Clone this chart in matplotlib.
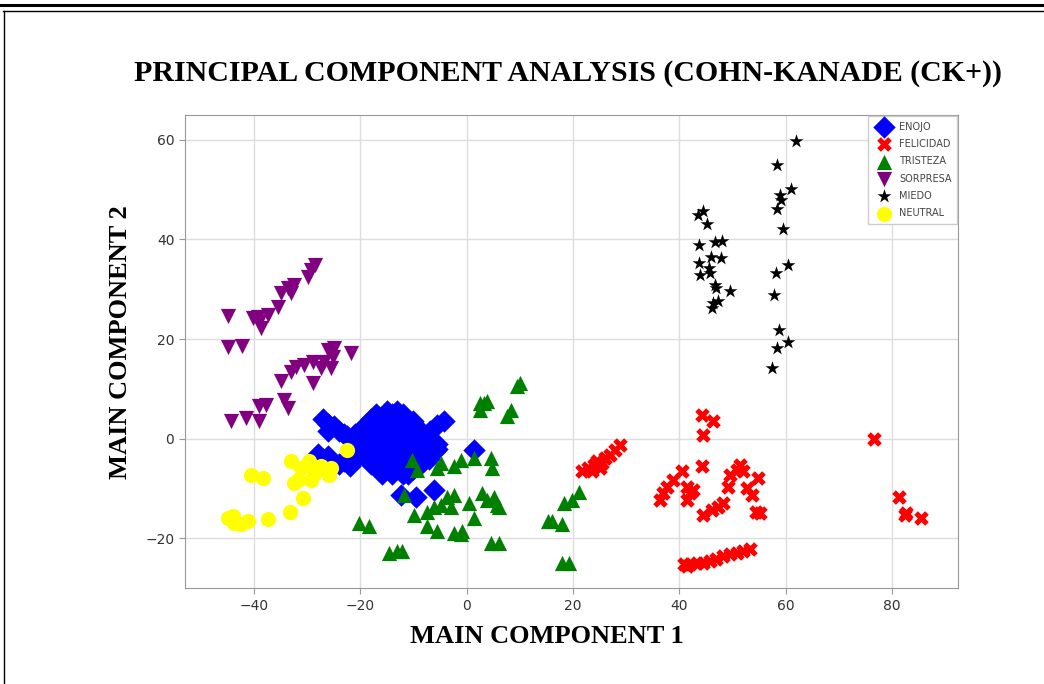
import matplotlib
matplotlib.use("Agg")
import matplotlib.pyplot as plt
from matplotlib.lines import Line2D

# PCA scatter of CK+ emotions

title = "PRINCIPAL COMPONENT ANALYSIS (COHN-KANADE (CK+))"
x_label = "MAIN COMPONENT 1"
y_label = "MAIN COMPONENT 2"
x_ticks = [-40, -20, 0, 20, 40, 60, 80]
y_ticks = [-20, 0, 20, 40, 60]

# ENOJO (blue diamonds)
enojo_x = [-27, -26, -25, -24, -23, -22.5, -26,
           -28, -27, -26, -25, -24, -23, -22, -21, -20, -21,
           -19, -18, -17, -16, -15, -14, -13, -12, -11, -10,
           -19, -18, -17, -16, -15, -14, -13, -12, -11, -10, -9, -8,
           -18, -17, -16, -15, -14, -13, -12, -11, -10, -15, -14, -13, -12,
           -16, -11, -9, -20, -21, -5.5, -7, -8,
           -19, -18, -17, -15, -13, -12, -10, -9, -8, -9,
           -19, -17, -18, -16, -14, -11, -10, -9, -20, -8,
           -7, -6, -5.5, -7,
           -6.8, -5.5, -4.3, -12.4, -9.6, -6.1, 1.4]
enojo_y = [4, 3, 2.5, 1.5, 1, 0.5, 1.5,
           -3, -4, -3.5, -5, -5, -4.5, -5.5, -4, -3, -2,
           1, 2, 3, 4, 4.5, 5, 4, 3.5, 2.5, 1.5,
           -1, -1, 0, 1, 2, 2, 1, 1, 0, -1, -2, -2.5,
           -3, -3, -2, -1, -1, -2, -3, -3, -4, -4, -5, -6, -7,
           -5.5, -5, -4, 0, 1, -2, -3, -1,
           3, 4, 5, 5.5, 5.5, 5, 3.5, 2, 0, 0.5,
           -2, -5, -5, -7, -7, -7, -6, -5.5, -1, -4,
           -1, -2.5, -1, -4,
           1.5, 2.8, 3.5, -11.2, -11.6, -10.2, -2.2]

# FELICIDAD (red X)
felicidad_x = [21.7, 22.9, 23.9, 24.5, 25.5, 26.1, 27.0, 28.0, 28.9, 23.6, 25.1,
               44.2, 46.4, 44.5, 44.2, 40.5, 38.9, 37.7, 37.0, 36.4, 41.4, 42.0,
               41.4, 42.6, 44.5, 46.1, 47.3, 48.3, 49.2, 49.5, 50.8, 51.4, 52.0,
               52.7, 53.6, 54.8, 55.2, 54.5,
               40.8, 42.0, 43.3, 44.5, 45.8, 47.0, 48.3, 49.5, 50.8, 52.0, 53.3, 41.4,
               76.7, 81.4, 82.7, 82.4, 85.5]
felicidad_y = [-6.5, -5.9, -5.2, -4.5, -4.9, -3.9, -3.2, -2.2, -1.2, -6.5, -5.9,
               4.8, 3.5, 0.8, -5.5, -6.5, -8.2, -9.6, -10.9, -12.2, -9.6, -10.9,
               -12.2, -10.2, -15.2, -14.2, -13.6, -12.9, -9.6, -7.2, -6.2, -5.2, -6.5,
               -9.9, -11.2, -7.9, -14.9, -14.6,
               -25.2, -25.2, -24.9, -24.9, -24.6, -24.2, -23.6, -23.2, -22.9, -22.6, -22.2, -25.6,
               -0.1, -11.7, -14.9, -15.2, -15.9]

# TRISTEZA (green triangles up)
tristeza_x = [-10.2, -9.3, -4.9, -5.5, -2.4, -1.1, 1.4, 4.5, 4.8,
              -11.8, -9.9, -7.4, -6.1, -4.9, -3.6, -2.4, -7.4, -5.5, -2.4, -1.1,
              1.4, 2.9, 3.9, 5.8, 4.5, 6.1, -20.2, -18.3, -14.6, -13.0, -12.1,
              2.6, 3.9, 7.6, 10.1, 9.5, 3.2, 2.6, 8.3,
              0.4, 5.1, 6.1, -0.8, -3.0,
              15.4, 16.1, 18.0, 18.3, 19.8, 21.1, 18.0, 19.2]
tristeza_y = [-4.2, -6.2, -4.9, -5.9, -5.5, -4.2, -3.9, -3.9, -5.9,
              -11.2, -15.2, -14.6, -13.6, -13.2, -11.6, -11.2, -17.6, -18.6, -18.9, -19.2,
              -15.9, -10.9, -12.2, -13.2, -20.9, -20.9, -16.9, -17.6, -22.9, -22.6, -22.6,
              7.2, 7.5, 4.5, 11.2, 10.5, 7.2, 5.8, 5.8,
              -12.9, -11.6, -13.6, -18.6, -13.6,
              -16.6, -16.6, -17.2, -12.9, -12.2, -10.6, -24.9, -24.9]

# SORPRESA (purple triangles down)
sorpresa_x = [-44.9, -44.9, -42.3, -40.2, -39.0, -38.6, -37.4, -35.5, -34.9, -33.6,
              -32.4, -33.0, -29.9, -28.6, -29.3, -39.3,
              -44.3, -41.5, -39.0, -39.0, -37.7, -34.3, -33.6, -34.9, -33.0, -32.1,
              -30.5, -28.9, -28.9, -27.4, -26.8, -26.1, -24.9, -25.2, -25.5, -21.8]
sorpresa_y = [24.6, 18.5, 18.6, 24.2, 23.5, 22.2, 24.8, 26.5, 29.2, 30.2,
              30.9, 29.2, 32.5, 34.9, 33.9, 24.5,
              3.5, 4.1, 3.5, 6.5, 6.8, 7.8, 6.1, 11.5, 13.5, 14.5,
              14.8, 15.5, 11.2, 14.2, 15.5, 17.8, 18.2, 16.5, 14.2, 17.2]

# MIEDO (black stars)
miedo_x = [62.0, 58.4, 61.1, 58.9, 59.2, 58.3, 59.5, 60.5, 58.2, 57.8, 58.7, 60.5,
           58.4, 57.5,
           43.6, 44.4, 45.2, 43.8, 46.7, 48.0, 46.0, 47.8, 43.8, 45.6, 43.9, 45.8,
           46.7, 47.0, 49.5, 47.2, 46.4, 46.1]
miedo_y = [59.8, 54.9, 50.2, 48.9, 47.9, 46.2, 42.2, 34.9, 33.2, 28.9, 21.8, 19.5,
           18.2, 14.3,
           44.9, 45.8, 43.1, 38.9, 39.5, 39.7, 36.5, 36.2, 35.2, 34.2, 32.9, 33.2,
           30.9, 30.2, 29.7, 27.7, 27.2, 26.3]

# NEUTRAL (yellow circles)
neutral_x = [-44.9, -43.7, -42.4, -41.1, -44.0, -40.5, -38.3, -37.4, -33.3, -30.8,
             -33.0, -31.8, -31.1, -29.6, -28.6, -27.4, -25.8, -25.5, -22.4, -32.5, -29.3]
neutral_y = [-15.9, -16.9, -17.2, -16.6, -15.6, -7.2, -7.9, -16.2, -14.6, -11.9,
             -4.5, -8.2, -5.9, -4.5, -6.9, -5.5, -7.2, -5.9, -2.2, -8.8, -8.2]

fig = plt.figure(figsize=(10.44, 6.84), dpi=100)
ax = fig.add_axes([0.177, 0.140, 0.741, 0.692])

ax.scatter(enojo_x, enojo_y, marker="D", s=130, c="blue", linewidths=0, label="ENOJO")
ax.scatter(felicidad_x, felicidad_y, marker="X", s=110, c="red", linewidths=0, label="FELICIDAD")
ax.scatter(tristeza_x, tristeza_y, marker="^", s=120, c="green", linewidths=0, label="TRISTEZA")
ax.scatter(sorpresa_x, sorpresa_y, marker="v", s=120, c="purple", linewidths=0, label="SORPRESA")
ax.scatter(miedo_x, miedo_y, marker="*", s=110, c="black", linewidths=0, label="MIEDO")
ax.scatter(neutral_x, neutral_y, marker="o", s=120, c="yellow", linewidths=0, label="NEUTRAL")

ax.set_xlim(-53, 92.5)
ax.set_ylim(-30, 65)
ax.set_xticks(x_ticks)
ax.set_yticks(y_ticks)
ax.grid(True, color="#dddddd", linewidth=1)
ax.set_axisbelow(True)
for sp in ax.spines.values():
    sp.set_color("#999999")
ax.tick_params(colors="#999999", labelcolor="#333333", labelsize=10, length=4)

leg = ax.legend(loc="upper right", fontsize=7, borderaxespad=0.1, markerscale=1.0,
                labelspacing=0.75, handletextpad=0.6, borderpad=0.6,
                fancybox=False, framealpha=1)
leg.get_frame().set_edgecolor("#cccccc")
for t in leg.get_texts():
    t.set_color("#444444")

serif = {"family": "Liberation Serif", "weight": "bold"}
fig.text(0.5436, 0.893, title, ha="center", va="center", fontsize=21.5, **serif)
fig.text(0.5235, 0.07, x_label, ha="center", va="center", fontsize=19, **serif)
fig.text(0.115, 0.5, y_label, ha="center", va="center", rotation=90, fontsize=19, **serif)

# page border lines around the figure
fig.add_artist(Line2D([0, 1], [0.992, 0.992], color="black", linewidth=2.2))
fig.add_artist(Line2D([0.003, 1], [0.9846, 0.9846], color="black", linewidth=1.0))
fig.add_artist(Line2D([0.0035, 0.0035], [0, 0.9846], color="black", linewidth=1.0))

fig.savefig("out.png", dpi=100)
